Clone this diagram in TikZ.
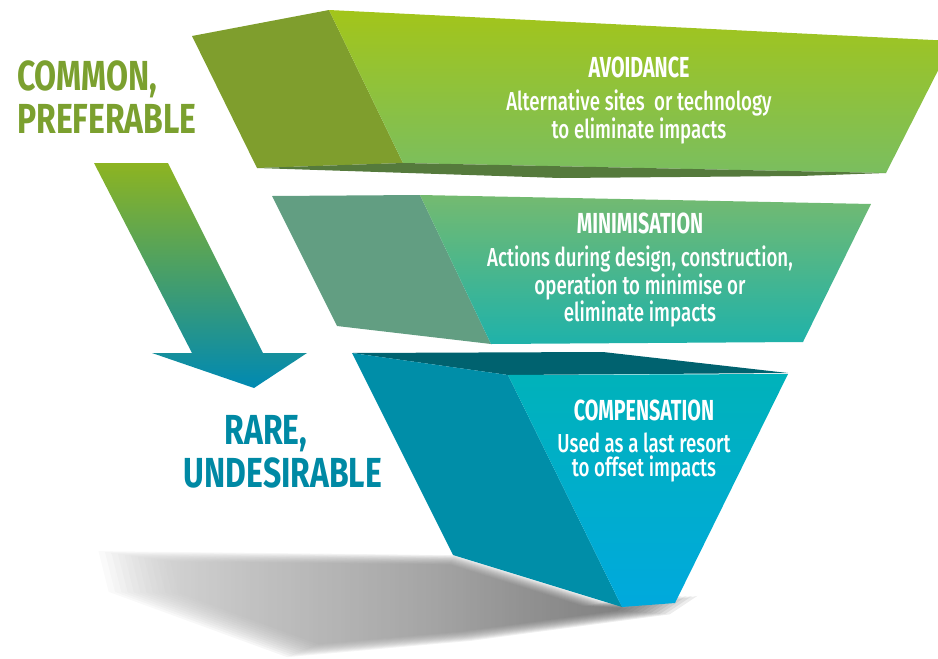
\documentclass[tikz,border=0pt]{standalone}
\usepackage{fontspec}
\usetikzlibrary{positioning}
\newfontfamily\slabhfont[FakeStretch=0.68]{Fira Sans}
\newfontfamily\slabfont[FakeStretch=0.72,UprightFont={* Medium}]{Fira Sans}
\newfontfamily\sidefont[FakeStretch=0.76]{Fira Sans}
\definecolor{avoidSide}{HTML}{7F9E2D}
\definecolor{avoidTop}{HTML}{A3C51A}
\definecolor{avoidBot}{HTML}{7ABE5F}
\definecolor{avoidBase}{HTML}{557A3C}
\definecolor{minSide}{HTML}{629E82}
\definecolor{minTop}{HTML}{74BA70}
\definecolor{minBot}{HTML}{1FB2AA}
\definecolor{compInner}{HTML}{00626F}
\definecolor{compSide}{HTML}{008EA8}
\definecolor{compTop}{HTML}{00B2BA}
\definecolor{compBot}{HTML}{00A9DD}
\definecolor{arrowTop}{HTML}{8DB421}
\definecolor{arrowMid}{HTML}{2E9C80}
\definecolor{arrowBot}{HTML}{0089B2}
\definecolor{commonGreen}{HTML}{7BA02F}
\definecolor{rareBlue}{HTML}{0089A4}
\begin{document}
\begin{tikzpicture}[x=1pt,y=-1pt,
  slabhead/.style={text=white,font=\slabhfont\bfseries\fontsize{29}{29}\selectfont,inner sep=0pt,anchor=base},
  slabbody/.style={text=white,font=\slabfont\fontsize{26}{24}\selectfont,align=center,inner sep=0pt},
  sidelabel/.style={font=\sidefont\bfseries\fontsize{42}{43}\selectfont,inner sep=0pt}]
  \useasboundingbox (0,0) rectangle (938,659);
  \begin{scope}
  \clip (0,0) rectangle (938,659);
  % shadow under the funnel, stacked copies to soften the edge
  \foreach \s in {0.80,0.82,...,1.04}
    \shade[scale around={\s:(430,598)}, left color=gray!40, right color=black!72, opacity=0.1]
      (105,552) -- (455,556) -- (622,608) -- (692,596) -- (665,614) -- (470,640) -- (290,656) -- (115,592) -- cycle;
  % avoidance slab
  \fill[avoidSide] (192,36) -- (329,10) -- (403,163) -- (257,168) -- cycle;
  \shade[top color=avoidTop, bottom color=avoidBot] (329,10) -- (953,41) -- (886,173) -- (403,163) -- cycle;
  \fill[avoidBase] (257,168) -- (403,163) -- (886,173) -- (800,176) -- (560,178) -- cycle;
  % minimisation slab
  \fill[minSide] (272,196) -- (420,195) -- (491,344) -- (337,326) -- cycle;
  \shade[top color=minTop, bottom color=minBot] (420,195) -- (871,204) -- (803,342) -- (491,344) -- cycle;
  % compensation block
  \fill[compInner] (352,353) -- (603,352) -- (788,373) -- (508,375) -- cycle;
  \fill[compSide] (352,353) -- (508,375) -- (622,607) -- (453,555) -- cycle;
  \shade[top color=compTop, bottom color=compBot] (508,375) -- (788,374) -- (675,603) -- (622,607) -- cycle;
  % arrow
  \shade[top color=arrowTop, middle color=arrowMid, bottom color=arrowBot]
    (94,163) -- (168,163) -- (263,353) -- (307,353) -- (254,388) -- (152,353) -- (192,353) -- cycle;
  \end{scope}
  % texts
  \node[slabhead] (avoidHead) at (639,77) {AVOIDANCE};
  \node[slabbody, below=12pt of avoidHead] (avoidBody) {Alternative sites\ \ or technology\\to eliminate impacts};
  \node[slabhead] (minHead) at (640,233) {MINIMISATION};
  \node[slabbody, below=12pt of minHead] (minBody) {Actions during design, construction,\\operation to minimise or\\eliminate impacts};
  \node[slabhead] (compHead) at (644,420) {COMPENSATION};
  \node[slabbody, below=12pt of compHead] (compBody) {Used as a last resort\\to offset impacts};
  \node[sidelabel, text=commonGreen, align=left, anchor=north west] (common) at (17,60) {COMMON,\\PREFERABLE};
  \node[sidelabel, text=rareBlue, align=center, anchor=north] (rare) at (283,415) {RARE,\hspace*{34pt}\\UNDESIRABLE};
\end{tikzpicture}
\end{document}
